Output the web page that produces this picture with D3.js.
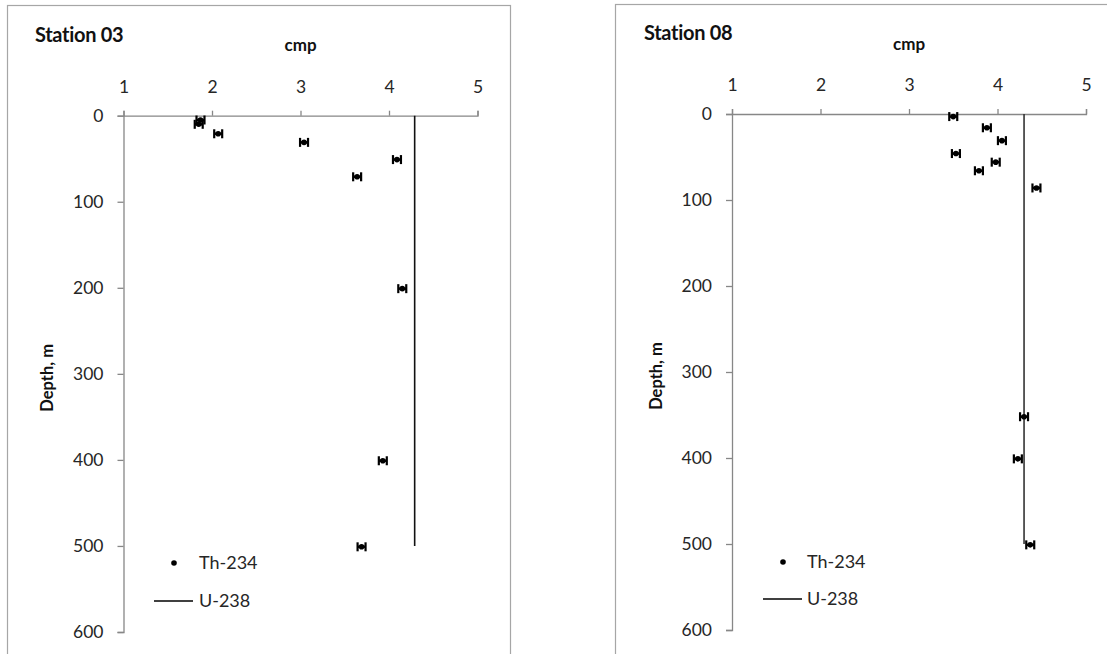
<!DOCTYPE html>
<html><head><meta charset="utf-8">
<script src="https://cdn.jsdelivr.net/npm/d3@7"></script>
<style>body{margin:0;background:#fff}svg{display:block}text{font-family:Lato,"Open Sans",sans-serif}</style>
</head><body>
<script>
// Station 03
const st03Depth = [5, 10, 21, 31, 51, 71, 201, 401, 501];
const st03Th    = [1.87, 1.85, 2.07, 3.04, 4.09, 3.64, 4.15, 3.93, 3.69];
const st03U     = [4.29, 4.29];
// Station 08
const st08Depth = [3, 16, 31, 46, 56, 66, 86, 352, 401, 501];
const st08Th    = [3.50, 3.88, 4.05, 3.53, 3.98, 3.79, 4.44, 4.30, 4.23, 4.37];
const st08U     = [4.30, 4.30];
const uDepth    = [0, 500];
const thErr = 0.045;
const xTicks = [1, 2, 3, 4, 5];
const yTicks = [0, 100, 200, 300, 400, 500, 600];
const titles = ["Station 03", "Station 08"];
const legendLabels = ["Th-234", "U-238"];

const svg = d3.select("body").append("svg").attr("width", 1107).attr("height", 654);
const axisCol = "#878787", textCol = "#262626";

const panels = [
  {title: titles[0], depth: st03Depth, th: st03Th, u: st03U, frame: [7, 5, 503, 700],
   xr: [123.5, 477.5], yr: [115.7, 632], titleX: 35, titleY: 42, cmpY: 51, depthX: 47, uCol: "#111",
   leg: {dotX: 174, lineX1: 154, lineX2: 193, textX: 199, y1: 563, y2: 601}},
  {title: titles[1], depth: st08Depth, th: st08Th, u: st08U, frame: [615, 4, 520, 700],
   xr: [732, 1086], yr: [114, 630], titleX: 644, titleY: 40, cmpY: 50, depthX: 656, uCol: "#333",
   leg: {dotX: 783, lineX1: 763, lineX2: 802, textX: 807, y1: 562, y2: 599}}
];

panels.forEach(p => {
  const g = svg.append("g");
  g.append("rect").attr("x", p.frame[0] + 0.5).attr("y", p.frame[1] + 0.5)
    .attr("width", p.frame[2]).attr("height", p.frame[3])
    .attr("fill", "#fff").attr("stroke", "#a6a6a6").attr("stroke-width", 1.2);
  const x = d3.scaleLinear().domain([1, 5]).range(p.xr);
  const y = d3.scaleLinear().domain([0, 600]).range(p.yr);

  const xa = g.append("g").attr("transform", `translate(0,${y(0)})`)
    .call(d3.axisTop(x).tickValues(xTicks).tickSize(5).tickSizeOuter(5).tickPadding(18).tickFormat(d3.format("d")));
  const ya = g.append("g").attr("transform", `translate(${x(1)},0)`)
    .call(d3.axisLeft(y).tickValues(yTicks).tickSize(6).tickSizeOuter(6).tickPadding(14).tickFormat(d3.format("d")));
  [xa, ya].forEach(a => {
    a.selectAll("path,line").attr("stroke", axisCol).attr("stroke-width", 1.3);
    a.selectAll("text").attr("fill", textCol).style("font-size", "17.5px").style("font-family", "Lato, 'Open Sans', sans-serif");
  });

  g.append("text").attr("x", p.titleX).attr("y", p.titleY).text(p.title)
    .attr("fill", "#111").style("font-weight", "bold").style("font-size", "20px").style("letter-spacing", "-0.3px");
  g.append("text").attr("x", (p.xr[0] + p.xr[1]) / 2).attr("y", p.cmpY).attr("text-anchor", "middle").text("cmp")
    .attr("fill", "#111").style("font-weight", "bold").style("font-size", "17px");
  g.append("text").attr("transform", `translate(${p.depthX},${(p.yr[0] + p.yr[1]) / 2 + 4}) rotate(-90)`)
    .attr("text-anchor", "middle").attr("dy", "0.35em").text("Depth, m")
    .attr("fill", "#111").style("font-weight", "bold").style("font-size", "16.5px");

  // U-238 line
  const line = d3.line().x((d, i) => x(p.u[i])).y(d => y(d));
  g.append("path").datum(uDepth).attr("d", line).attr("fill", "none").attr("stroke", p.uCol).attr("stroke-width", 1.6);

  // Th-234 points with error bars
  const pts = g.selectAll(".pt").data(p.depth.map((d, i) => ({d, v: p.th[i]}))).enter().append("g");
  pts.append("line").attr("x1", d => x(d.v - thErr)).attr("x2", d => x(d.v + thErr))
    .attr("y1", d => y(d.d)).attr("y2", d => y(d.d)).attr("stroke", "#000").attr("stroke-width", 2.5);
  [-1, 1].forEach(s => {
    pts.append("line").attr("x1", d => x(d.v + s * thErr)).attr("x2", d => x(d.v + s * thErr))
      .attr("y1", d => y(d.d) - 4.5).attr("y2", d => y(d.d) + 4.5).attr("stroke", "#000").attr("stroke-width", 2.2);
  });
  pts.append("circle").attr("cx", d => x(d.v)).attr("cy", d => y(d.d)).attr("r", 2.8).attr("fill", "#000");

  // legend
  const L = p.leg;
  g.append("circle").attr("cx", L.dotX).attr("cy", L.y1).attr("r", 2.8).attr("fill", "#000");
  g.append("text").attr("x", L.textX).attr("y", L.y1).attr("dy", "0.35em").text(legendLabels[0])
    .attr("fill", textCol).style("font-size", "18px");
  g.append("line").attr("x1", L.lineX1).attr("x2", L.lineX2).attr("y1", L.y2).attr("y2", L.y2)
    .attr("stroke", "#000").attr("stroke-width", 1.5);
  g.append("text").attr("x", L.textX).attr("y", L.y2).attr("dy", "0.35em").text(legendLabels[1])
    .attr("fill", textCol).style("font-size", "18px");
});
</script>
</body></html>
